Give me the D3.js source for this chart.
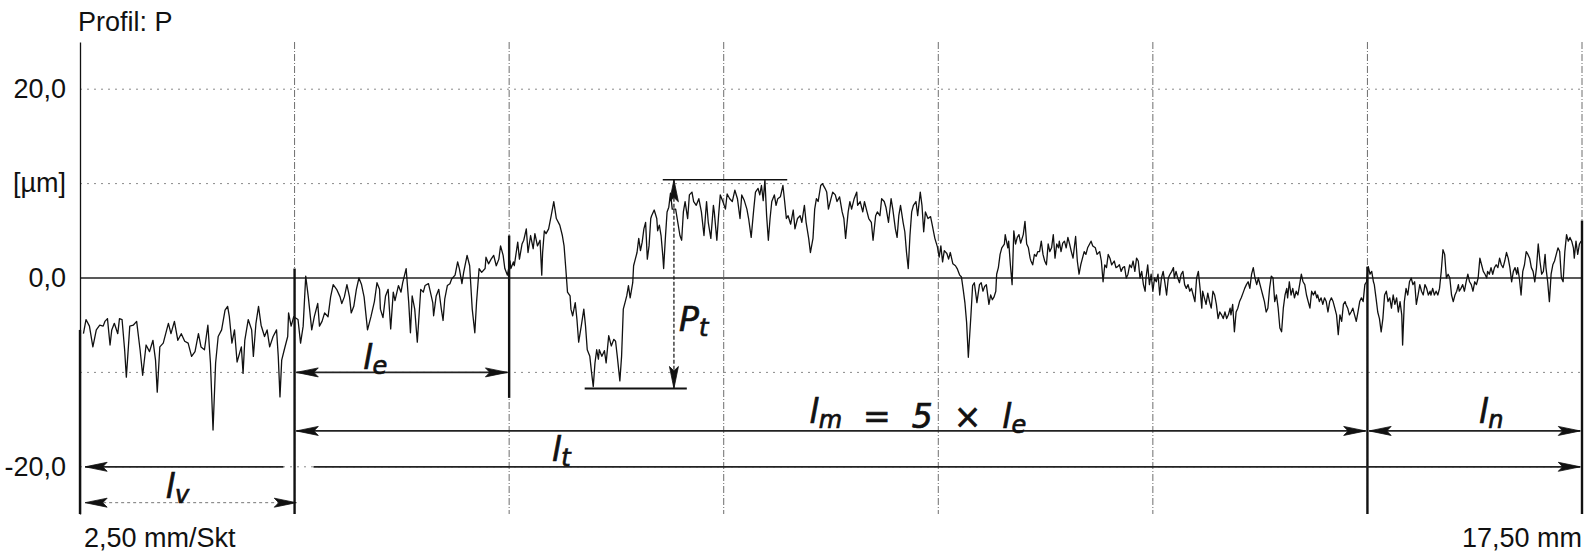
<!DOCTYPE html>
<html>
<head>
<meta charset="utf-8">
<script src="https://cdn.jsdelivr.net/npm/d3@7"></script>
<style>
  body { margin: 0; background: #fff; }
  svg { display: block; }
  .lbl { font-family: "Liberation Sans", Arial, sans-serif; font-size: 27px; fill: #111; }
  .hand { font-family: "DejaVu Sans", sans-serif; font-style: italic; fill: #111; stroke: #111; stroke-width: 0.7; }
</style>
</head>
<body>
<svg id="chart" width="1586" height="553"></svg>
<script>
'use strict';

// profile P, x in mm, z in µm
var seg1 = [[0.04,-5.9],[0.07,-4.4],[0.11,-5.1],[0.15,-7.3],[0.19,-5.5],[0.23,-5.0],[0.27,-5.1],[0.29,-4.6],[0.32,-4.3],[0.35,-7.1],[0.37,-5.5],[0.40,-4.8],[0.44,-5.9],[0.46,-4.3],[0.49,-4.4],[0.52,-7.6],[0.54,-10.5],[0.58,-5.1],[0.62,-5.0],[0.66,-4.6],[0.70,-7.6],[0.73,-10.3],[0.77,-7.1],[0.81,-7.8],[0.85,-6.6],[0.88,-8.7],[0.90,-12.1],[0.93,-7.3],[0.97,-6.9],[1.01,-5.5],[1.03,-4.8],[1.06,-5.9],[1.10,-4.6],[1.14,-6.6],[1.18,-5.9],[1.22,-6.7],[1.26,-6.9],[1.30,-8.3],[1.34,-7.8],[1.38,-5.9],[1.41,-7.3],[1.45,-7.6],[1.49,-5.0],[1.52,-9.0],[1.55,-16.1],[1.58,-9.0],[1.61,-6.2],[1.65,-5.5],[1.69,-3.4],[1.72,-3.0],[1.74,-4.1],[1.77,-6.9],[1.80,-5.5],[1.83,-8.9],[1.88,-7.3],[1.90,-10.1],[1.92,-6.6],[1.96,-4.4],[2.00,-5.5],[2.02,-8.3],[2.05,-4.8],[2.08,-3.0],[2.11,-5.0],[2.15,-6.2],[2.18,-5.5],[2.21,-7.3],[2.25,-6.2],[2.29,-5.5],[2.31,-8.3],[2.33,-12.6],[2.35,-8.7],[2.38,-7.6],[2.42,-6.2],[2.43,-3.7],[2.46,-5.1],[2.49,-4.1],[2.54,-4.4],[2.57,-6.9],[2.60,-5.1],[2.63,0.2],[2.66,-2.0],[2.70,-5.5],[2.73,-4.1],[2.77,-2.7],[2.79,-5.1],[2.82,-4.6],[2.85,-3.7],[2.89,-4.1],[2.92,-2.0],[2.95,-0.7],[2.99,-1.2],[3.03,-2.0],[3.05,-2.7],[3.08,-2.0],[3.11,-0.7],[3.14,-2.0],[3.16,-3.7],[3.19,-3.0],[3.22,-1.2],[3.25,0.0],[3.28,-0.7],[3.31,-2.0],[3.35,-5.5],[3.39,-4.1],[3.43,-2.5],[3.46,-0.5],[3.49,-1.2]];
var seg2 = [[3.50,-3.3],[3.53,-4.2],[3.56,-1.9],[3.59,-1.2],[3.62,-5.4],[3.65,-1.5],[3.67,-2.4],[3.71,-0.8],[3.74,-1.5],[3.76,-0.5],[3.80,1.0],[3.83,-2.6],[3.85,-5.8],[3.87,-1.9],[3.90,-3.3],[3.93,-6.8],[3.95,-4.0],[3.97,-1.2],[4.00,-1.5],[4.02,-0.8],[4.06,-0.6],[4.08,-1.4],[4.11,-2.6],[4.12,-4.0],[4.15,-1.9],[4.18,-1.2],[4.21,-3.3],[4.23,-4.5],[4.25,-2.2],[4.28,-0.8],[4.31,-0.6],[4.33,-0.1],[4.37,0.3],[4.40,1.7],[4.42,1.0],[4.45,-0.6],[4.47,0.6],[4.51,2.4],[4.54,1.3],[4.57,-3.3],[4.60,-5.8],[4.62,-2.6],[4.65,1.0],[4.68,0.6],[4.72,1.0],[4.73,2.2],[4.76,1.5],[4.79,2.0],[4.82,2.4],[4.85,1.3],[4.88,2.0],[4.90,3.4],[4.93,2.4],[4.95,1.0],[4.98,0.3],[5.01,1.8],[5.02,1.0],[5.05,1.7],[5.06,1.3],[5.10,3.8],[5.12,2.0],[5.15,3.6],[5.17,4.0],[5.20,5.2],[5.22,2.7],[5.25,4.5],[5.28,3.1],[5.30,4.7],[5.33,3.4],[5.36,4.0],[5.38,0.3],[5.39,2.7],[5.41,5.0],[5.43,4.7],[5.46,5.2],[5.49,6.6],[5.52,8.1],[5.55,6.3],[5.59,5.6],[5.62,4.5],[5.64,3.4],[5.66,1.0],[5.68,-1.5],[5.71,-1.9],[5.72,-3.3],[5.74,-4.0],[5.77,-2.6],[5.79,-4.4],[5.81,-6.8],[5.84,-5.1],[5.87,-3.3],[5.89,-5.1],[5.91,-7.6],[5.94,-8.3],[5.96,-10.0],[5.98,-11.5],[6.00,-9.0],[6.02,-7.6],[6.04,-8.6],[6.05,-7.6],[6.08,-8.3],[6.11,-7.7],[6.13,-9.0],[6.16,-6.1],[6.19,-7.2],[6.22,-6.5],[6.24,-6.7],[6.26,-8.3],[6.29,-10.9],[6.31,-8.3],[6.33,-3.3],[6.35,-2.6],[6.37,-1.9],[6.39,-0.8],[6.41,-2.1],[6.44,-0.5],[6.45,1.3],[6.47,2.0],[6.49,2.7],[6.51,4.2],[6.53,2.9],[6.55,3.8],[6.57,5.2],[6.59,5.9],[6.61,2.0],[6.63,3.4],[6.65,6.3],[6.66,6.6],[6.69,7.2],[6.72,6.3],[6.73,5.0],[6.75,5.6],[6.77,4.5],[6.79,2.4],[6.80,1.0],[6.82,4.2],[6.84,7.0],[6.86,7.5],[6.88,9.0],[6.90,7.3],[6.94,7.3]];
var seg3 = [[6.99,4.5],[7.01,4.0],[7.03,7.0],[7.05,8.1],[7.08,6.3],[7.10,8.8],[7.13,9.1],[7.15,8.1],[7.18,7.7],[7.21,8.4],[7.24,7.0],[7.27,4.5],[7.30,8.1],[7.32,5.9],[7.35,4.2],[7.38,7.7],[7.39,7.0],[7.42,4.0],[7.44,6.6],[7.46,8.8],[7.49,8.1],[7.52,7.3],[7.54,8.9],[7.57,8.4],[7.60,8.1],[7.63,9.3],[7.66,8.4],[7.69,6.3],[7.71,8.8],[7.74,8.2],[7.77,7.3],[7.79,6.3],[7.82,4.3],[7.85,7.3],[7.87,9.1],[7.90,9.5],[7.92,8.8],[7.94,9.8],[7.96,8.2],[7.98,10.4],[8.00,6.6],[8.02,4.0],[8.04,6.3],[8.06,8.1],[8.09,8.8],[8.11,7.7],[8.13,8.4],[8.16,8.6],[8.19,9.8],[8.21,8.1],[8.23,6.3],[8.25,6.6],[8.28,5.7],[8.31,7.2],[8.33,5.2],[8.36,6.3],[8.39,6.6],[8.41,5.9],[8.44,7.7],[8.46,5.9],[8.49,4.2],[8.51,2.7],[8.54,4.2],[8.56,7.3],[8.58,8.4],[8.60,8.1],[8.63,9.8],[8.65,10.0],[8.68,9.5],[8.70,9.1],[8.72,7.3],[8.75,8.4],[8.77,9.1],[8.80,8.8],[8.82,8.1],[8.85,8.6],[8.88,7.0],[8.90,6.3],[8.92,4.2],[8.95,7.0],[8.97,8.1],[8.99,7.3],[9.02,8.4],[9.05,9.1],[9.06,7.7],[9.09,8.1],[9.12,7.0],[9.14,8.1],[9.17,7.0],[9.19,6.3],[9.22,5.9],[9.24,4.0],[9.27,6.6],[9.29,7.0],[9.32,6.6],[9.34,8.4],[9.37,8.1],[9.39,7.5],[9.42,5.9],[9.45,8.4],[9.47,7.3],[9.50,5.2],[9.52,4.3],[9.54,6.6],[9.56,7.7],[9.59,5.9],[9.61,4.9],[9.63,2.7],[9.65,1.0],[9.67,4.5],[9.69,7.0],[9.71,7.7],[9.74,8.1],[9.76,6.6],[9.79,9.1],[9.81,7.7],[9.83,4.9],[9.85,7.0],[9.88,6.3],[9.91,6.5],[9.93,5.6],[9.96,4.2],[9.99,3.3],[10.01,2.2],[10.03,3.4],[10.05,1.7],[10.07,2.9],[10.10,2.6],[10.12,2.0],[10.14,2.7],[10.17,1.5],[10.20,1.3],[10.22,1.0],[10.25,0.3],[10.27,0.1],[10.29,-1.2],[10.31,-2.6],[10.33,-4.7],[10.35,-8.4],[10.38,-4.0],[10.40,-0.8],[10.42,-0.5],[10.44,-1.9],[10.45,-2.6]];
var seg4 = [[10.48,-0.7],[10.50,-0.5],[10.52,-1.4],[10.54,-0.9],[10.56,-0.7],[10.59,-2.8],[10.61,-1.8],[10.63,-2.3],[10.65,-2.0],[10.67,-1.4],[10.68,0.4],[10.70,1.1],[10.72,2.5],[10.74,3.2],[10.77,3.6],[10.78,4.6],[10.81,3.2],[10.82,3.9],[10.84,1.4],[10.86,-0.7],[10.88,5.0],[10.90,3.6],[10.92,4.3],[10.94,4.6],[10.96,3.7],[10.99,4.6],[11.01,6.0],[11.03,3.6],[11.05,3.2],[11.07,2.1],[11.08,1.8],[11.10,1.4],[11.12,2.5],[11.14,2.3],[11.16,2.8],[11.18,2.8],[11.20,3.9],[11.22,2.5],[11.24,1.8],[11.26,1.4],[11.28,3.6],[11.30,2.8],[11.32,3.2],[11.34,4.6],[11.36,2.1],[11.38,3.6],[11.40,3.2],[11.41,3.9],[11.43,2.8],[11.45,3.7],[11.47,3.9],[11.49,3.2],[11.51,4.3],[11.53,3.6],[11.55,2.8],[11.57,2.1],[11.60,4.4],[11.62,1.8],[11.64,0.4],[11.66,1.4],[11.68,2.1],[11.70,2.8],[11.72,2.5],[11.74,3.2],[11.78,3.9],[11.80,3.4],[11.83,3.2],[11.85,2.5],[11.88,2.8],[11.90,1.8],[11.92,-0.4],[11.94,1.4],[11.96,1.1],[11.98,2.5],[12.00,2.1],[12.02,1.4],[12.05,1.8],[12.07,1.1],[12.09,1.2],[12.11,1.4],[12.13,0.7],[12.15,1.1],[12.17,1.2],[12.19,0.0],[12.21,0.4],[12.23,1.4],[12.25,1.1],[12.27,1.8],[12.29,0.7],[12.31,2.1],[12.33,1.8],[12.35,0.0],[12.37,0.7],[12.39,-0.7],[12.41,-1.4],[12.42,0.0],[12.44,1.4],[12.46,-0.7],[12.48,0.4],[12.50,-1.4],[12.52,0.0],[12.54,-0.4],[12.56,0.4],[12.58,-1.8],[12.60,0.0],[12.62,0.7],[12.64,-0.5],[12.66,-1.8],[12.68,0.0],[12.70,0.4],[12.72,0.7],[12.74,1.1],[12.75,0.0],[12.77,0.7],[12.79,0.0],[12.81,-0.5],[12.83,0.4],[12.85,0.7],[12.87,-0.7],[12.89,-1.1],[12.91,-0.7],[12.93,-1.4],[12.95,-1.1],[12.97,-1.8],[12.99,-2.5],[13.01,0.0],[13.03,0.7],[13.05,-1.1],[13.07,-3.2],[13.08,-1.4],[13.10,-2.1],[13.12,-2.8],[13.14,-1.6],[13.16,-2.5],[13.18,-3.2],[13.20,-1.4],[13.22,-1.8],[13.24,-2.8],[13.26,-4.3],[13.28,-3.6],[13.30,-3.9],[13.32,-4.3],[13.34,-3.6],[13.36,-4.3],[13.38,-3.9],[13.40,-3.2],[13.41,-3.9],[13.43,-2.8],[13.45,-5.7],[13.47,-3.6],[13.49,-3.2],[13.51,-2.5],[13.53,-2.1],[13.55,-1.6],[13.57,-1.1],[13.59,-0.7],[13.61,-0.4],[13.63,-1.1],[13.65,0.4],[13.67,1.1],[13.69,0.0],[13.71,-0.7],[13.73,0.0],[13.74,-0.4],[13.76,-1.1],[13.78,-1.8],[13.80,-2.5],[13.82,-3.6],[13.84,-3.2],[13.86,-1.1],[13.88,0.2],[13.90,0.0],[13.92,-2.5],[13.94,-1.8],[13.96,-3.2],[13.98,-5.3]];
var seg5 = [[14.00,-5.7],[14.02,-3.2],[14.04,-1.8],[14.06,-1.1],[14.07,-2.1],[14.09,-0.4],[14.11,-1.8],[14.13,-1.1],[14.15,-2.1],[14.17,-1.4],[14.19,-1.8],[14.21,-0.7],[14.23,0.4],[14.25,-0.4],[14.27,-0.7],[14.29,-1.8],[14.31,-2.5],[14.33,-3.2],[14.35,-1.4],[14.37,-1.8],[14.39,-1.4],[14.41,-2.1],[14.42,-1.8],[14.44,-2.5],[14.46,-2.1],[14.48,-2.8],[14.50,-2.1],[14.52,-2.5],[14.54,-3.6],[14.56,-2.5],[14.58,-2.1],[14.60,-2.5],[14.62,-3.2],[14.64,-3.9],[14.66,-6.0],[14.68,-3.9],[14.70,-4.6],[14.72,-2.8],[14.74,-2.5],[14.75,-2.8],[14.77,-3.2],[14.79,-3.9],[14.81,-3.6],[14.83,-3.2],[14.85,-3.9],[14.87,-4.6],[14.89,-3.6],[14.91,-2.5],[14.93,-2.1],[14.95,-2.5],[14.97,-0.7],[14.99,-0.4],[15.01,1.2],[15.03,0.4],[15.05,0.7],[15.07,-0.4],[15.08,-0.7],[15.10,-2.1],[15.12,-3.6],[15.14,-4.3],[15.16,-5.7],[15.18,-4.3],[15.20,-1.8],[15.22,-1.4],[15.24,-2.5],[15.26,-2.1],[15.28,-3.2],[15.30,-1.8],[15.32,-2.8],[15.34,-2.1],[15.36,-3.6],[15.38,-2.5],[15.40,-3.9],[15.41,-7.1],[15.43,-2.5],[15.45,-1.1],[15.47,-1.8],[15.49,-0.4],[15.51,0.0],[15.53,-0.7],[15.55,-0.4],[15.57,-2.8],[15.59,-1.8],[15.61,-0.7],[15.63,-1.4],[15.65,-1.8],[15.67,-0.7],[15.69,-1.1],[15.71,-1.8],[15.73,-1.4],[15.74,-1.8],[15.76,-1.1],[15.78,-1.8],[15.80,-1.4],[15.82,-1.8],[15.84,-1.1],[15.86,0.7],[15.88,3.0],[15.90,2.5],[15.92,0.0],[15.94,0.4],[15.96,0.0],[15.98,-1.8],[16.00,-2.5],[16.02,-1.8],[16.04,-1.4],[16.06,-0.7],[16.07,-1.4],[16.09,-1.1],[16.11,-0.7],[16.13,-1.4],[16.15,-0.4],[16.17,0.4],[16.19,-0.4],[16.21,-0.7],[16.23,-1.4],[16.25,-0.4],[16.27,-0.7],[16.29,0.0],[16.31,2.1],[16.33,1.4],[16.35,0.7],[16.37,0.4],[16.39,0.0],[16.40,0.7],[16.42,0.4],[16.44,1.1],[16.46,0.4],[16.48,1.1],[16.50,1.4],[16.52,1.1],[16.54,2.1],[16.56,1.4],[16.58,1.1],[16.60,1.8],[16.62,2.7],[16.64,2.1],[16.66,1.1],[16.68,-0.4],[16.70,0.7],[16.72,1.1],[16.74,0.4],[16.75,1.1],[16.77,0.0],[16.79,-1.8],[16.81,0.7],[16.83,1.4],[16.85,2.8],[16.87,2.5],[16.89,2.1],[16.91,1.1],[16.93,0.7],[16.95,-0.4],[16.97,1.1],[16.99,3.6],[17.01,1.8],[17.03,0.4],[17.05,0.7],[17.07,2.5],[17.08,1.1],[17.10,-0.4],[17.12,-2.5],[17.14,0.4],[17.16,1.4],[17.18,1.8],[17.20,2.5],[17.22,3.2],[17.24,2.8],[17.26,0.0],[17.28,-0.4],[17.30,2.8],[17.32,4.6],[17.34,3.9],[17.36,4.3],[17.38,3.9],[17.40,3.2],[17.41,2.1],[17.43,3.9],[17.45,2.5],[17.47,3.6],[17.49,3.9]];

var xStep = 2.5,
    xMax = 17.5,
    xGridTicks = [2.5, 5, 7.5, 10, 12.5, 15, 17.5],
    yGridTicks = [20, 10, -10, -20],
    yTickValues = [20, 0, -20],
    yUnitAt = 10,
    yDomain = [-25, 25];

// hand-drawn marks on the printout (mm / µm)
var markLines = [[0, -5.5], [2.5, 1.0], [5.0, 4.5, -12.7], [15.0, 1.2], [17.5, 6.1]];
var dims = [
  {x0: 0.06, x1: 2.52, z: -23.8, faint: true},
  {x0: 2.52, x1: 4.98, z: -10},
  {x0: 2.52, x1: 14.98, z: -16.2},
  {x0: 15.02, x1: 17.48, z: -16.2},
  {x0: 0.06, x1: 17.48, z: -20, gap: [2.37, 2.72]}
];
var pt = {x: 6.92, top: 10.4, bottom: -11.7, topFrom: 6.79, topTo: 8.24, botFrom: 5.88, botTo: 7.07};
var handLabels = [
  {x: 1.0, z: -23.3, parts: [['l'], ['v', 1]]},
  {x: 3.3, z: -9.6, parts: [['l'], ['e', 1]]},
  {x: 5.5, z: -19.4, parts: [['l'], ['t', 1]]},
  {x: 6.98, z: -5.6, parts: [['P'], ['t', 1]]},
  {x: 8.5, z: -15.4, parts: [['l'], ['m', 1], ['  =  5  \u00d7  l'], ['e', 1]]},
  {x: 16.3, z: -15.4, parts: [['l'], ['n', 1]]}
];

var svg = d3.select('#chart'),
    x = d3.scaleLinear().domain([0, xMax]).range([80, 1582]),
    y = d3.scaleLinear().domain(yDomain).range([514, 42]),
    profile = seg1.concat(seg2, seg3, seg4, seg5),
    comma = function (v, p) { return d3.format('.' + p + 'f')(v).replace('.', ',').replace('\u2212', '-'); };

// grid
svg.append('g').selectAll('line').data(yGridTicks).enter().append('line')
  .attr('x1', x(0)).attr('x2', x(xMax))
  .attr('y1', function (d) { return y(d); }).attr('y2', function (d) { return y(d); })
  .attr('stroke', '#8a8a8a').attr('stroke-width', 1).attr('stroke-dasharray', '2,5');

svg.append('g').selectAll('line').data(xGridTicks).enter().append('line')
  .attr('x1', function (d) { return x(d); }).attr('x2', function (d) { return x(d); })
  .attr('y1', y(yDomain[1])).attr('y2', y(yDomain[0]))
  .attr('stroke', '#6e6e6e').attr('stroke-width', 1).attr('stroke-dasharray', '7,2,1,2');

svg.append('line')
  .attr('x1', x(0)).attr('x2', x(xMax)).attr('y1', y(0)).attr('y2', y(0))
  .attr('stroke', '#222').attr('stroke-width', 1.3);

// y axis
var yAxis = svg.append('g')
  .attr('transform', 'translate(' + x(0) + ',0)')
  .call(d3.axisLeft(y).tickValues(yTickValues).tickSize(0).tickPadding(14)
    .tickFormat(function (d) { return comma(d, 1); }));
yAxis.select('.domain').attr('stroke', '#111').attr('stroke-width', 1.3);
yAxis.selectAll('text').attr('class', 'lbl').attr('fill', '#111');

svg.append('text').attr('class', 'lbl')
  .attr('x', x(0) - 14).attr('y', y(yUnitAt)).attr('dy', '0.32em')
  .attr('text-anchor', 'end').text('[\u00b5m]');

svg.append('text').attr('class', 'lbl').attr('x', 78).attr('y', 31).text('Profil: P');
svg.append('text').attr('class', 'lbl').attr('x', x(0) + 4).attr('y', 547)
  .text(comma(xStep, 2) + ' mm/Skt');
svg.append('text').attr('class', 'lbl').attr('x', x(xMax)).attr('y', 547)
  .attr('text-anchor', 'end').text(comma(xMax, 2) + ' mm');

// profile
svg.append('path').datum(profile)
  .attr('fill', 'none').attr('stroke', '#111').attr('stroke-width', 1.3).attr('stroke-linejoin', 'round')
  .attr('d', d3.line().x(function (d) { return x(d[0]); }).y(function (d) { return y(d[1]); }));

// hand-drawn annotations
var ink = svg.append('g').attr('fill', '#111').attr('stroke', '#111');

markLines.forEach(function (m) {
  ink.append('line')
    .attr('x1', x(m[0])).attr('x2', x(m[0]))
    .attr('y1', y(m[1])).attr('y2', y(m.length > 2 ? m[2] : yDomain[0]))
    .attr('stroke-width', 2.4);
});

function head(px, py, dx, dy) {
  var len = 22, w = 4.5,
      bx = px - dx * len, by = py - dy * len;
  return 'M' + px + ',' + py +
    'L' + (bx - dy * w) + ',' + (by + dx * w) +
    'L' + (px - dx * len * 0.8) + ',' + (py - dy * len * 0.8) +
    'L' + (bx + dy * w) + ',' + (by - dx * w) + 'Z';
}

dims.forEach(function (d) {
  var yy = y(d.z),
      parts = d.gap ? [[d.x0, d.gap[0]], [d.gap[1], d.x1]] : [[d.x0, d.x1]];
  parts.forEach(function (p) {
    ink.append('line')
      .attr('x1', x(p[0])).attr('x2', x(p[1])).attr('y1', yy).attr('y2', yy)
      .attr('stroke', d.faint ? '#777' : '#222')
      .attr('stroke-width', d.faint ? 1 : 1.8)
      .attr('stroke-dasharray', d.faint ? '3,3' : null);
  });
  ink.append('path').attr('d', head(x(d.x0), yy, -1, 0)).attr('stroke-width', 0.8);
  ink.append('path').attr('d', head(x(d.x1), yy, 1, 0)).attr('stroke-width', 0.8);
});

ink.append('line')
  .attr('x1', x(pt.topFrom)).attr('x2', x(pt.topTo)).attr('y1', y(pt.top)).attr('y2', y(pt.top))
  .attr('stroke-width', 1.6);
ink.append('line')
  .attr('x1', x(pt.botFrom)).attr('x2', x(pt.botTo)).attr('y1', y(pt.bottom)).attr('y2', y(pt.bottom))
  .attr('stroke-width', 2);
ink.append('line')
  .attr('x1', x(pt.x)).attr('x2', x(pt.x)).attr('y1', y(pt.top)).attr('y2', y(pt.bottom))
  .attr('stroke-width', 1.2).attr('stroke-dasharray', '4,2');
ink.append('path').attr('d', head(x(pt.x), y(pt.top), 0, -1)).attr('stroke-width', 0.8);
ink.append('path').attr('d', head(x(pt.x), y(pt.bottom), 0, 1)).attr('stroke-width', 0.8);

handLabels.forEach(function (l) {
  var t = svg.append('text').attr('class', 'hand')
    .attr('x', x(l.x)).attr('y', y(l.z)).attr('font-size', 33)
    .attr('xml:space', 'preserve');
  l.parts.forEach(function (p) {
    t.append('tspan')
      .attr('font-size', p[1] ? 24 : 33)
      .attr('dy', p[1] ? 5 : null)
      .text(p[0]);
    if (p[1]) t.append('tspan').attr('dy', -5).text('');
  });
});
</script>
</body>
</html>
